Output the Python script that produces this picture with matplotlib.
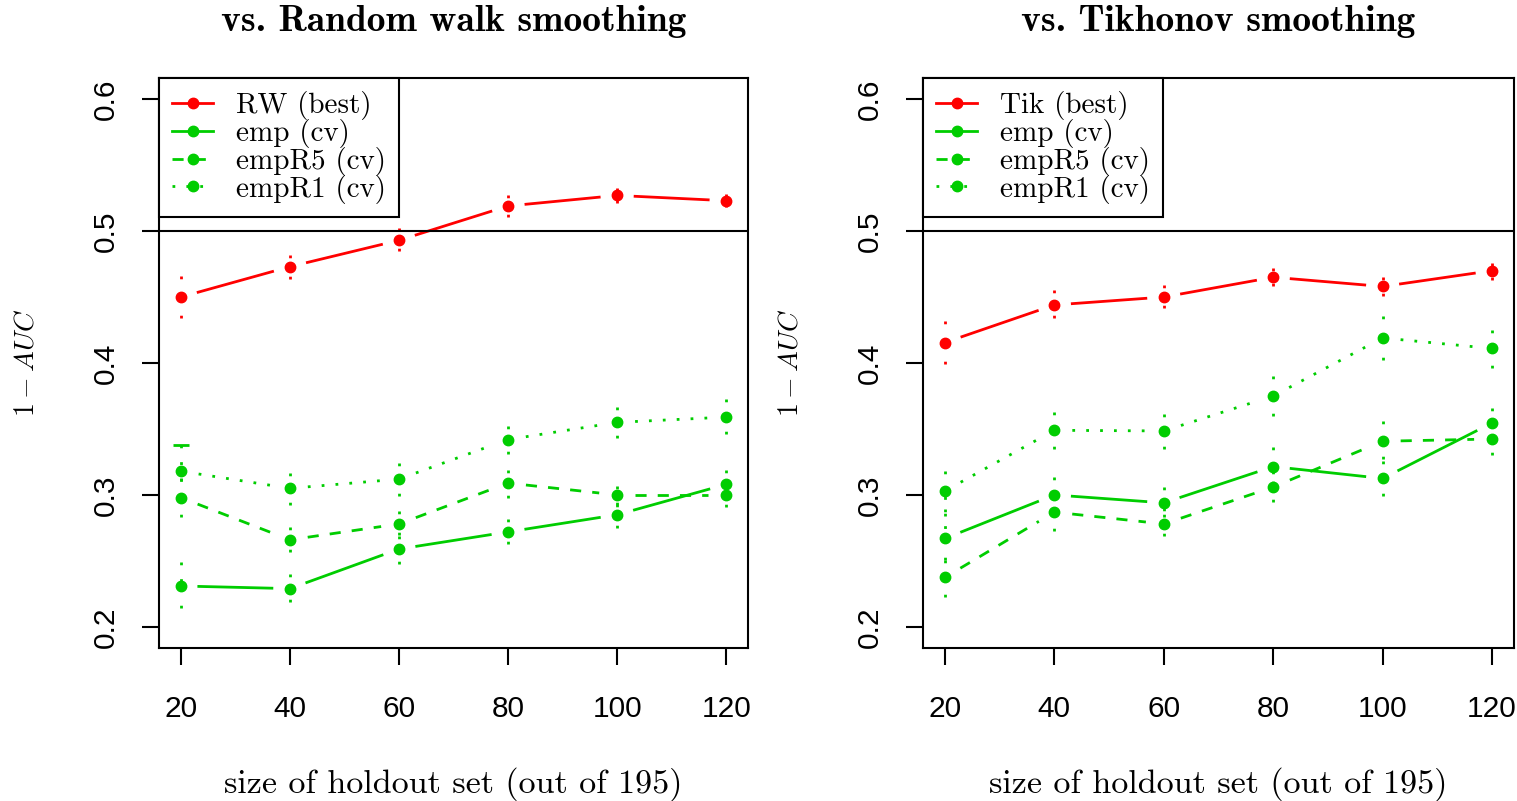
import numpy as np
import matplotlib
matplotlib.use("Agg")
import matplotlib.pyplot as plt
from matplotlib.lines import Line2D

plt.rcParams["mathtext.fontset"] = "cm"

RED = "#FF0000"
GREEN = "#00CD00"

holdout = [20, 40, 60, 80, 100, 120]

# left panel: vs. random walk smoothing
rw_best = [0.450, 0.473, 0.493, 0.519, 0.527, 0.523]
rw_best_lo = [0.434, 0.464, 0.485, 0.511, 0.521, 0.518]
rw_best_hi = [0.466, 0.482, 0.502, 0.527, 0.533, 0.528]
rw_emp = [0.231, 0.229, 0.259, 0.272, 0.285, 0.308]
rw_emp_lo = [0.214, 0.219, 0.248, 0.263, 0.275, 0.300]
rw_emp_hi = [0.249, 0.240, 0.269, 0.282, 0.293, 0.319]
rw_empR5 = [0.298, 0.266, 0.278, 0.309, 0.300, 0.300]
rw_empR5_lo = [0.283, 0.257, 0.270, 0.298, 0.292, 0.291]
rw_empR5_hi = [0.313, 0.276, 0.288, 0.319, 0.307, 0.308]
rw_empR1 = [0.318, 0.305, 0.312, 0.342, 0.355, 0.359]
rw_empR1_lo = [0.298, 0.292, 0.299, 0.331, 0.343, 0.346]
rw_empR1_hi = [0.338, 0.317, 0.324, 0.352, 0.367, 0.373]

# right panel: vs. Tikhonov smoothing
tik_best = [0.4155, 0.444, 0.450, 0.465, 0.458, 0.470]
tik_best_lo = [0.399, 0.434, 0.442, 0.458, 0.451, 0.463]
tik_best_hi = [0.432, 0.455, 0.459, 0.472, 0.465, 0.476]
tik_emp = [0.267, 0.300, 0.294, 0.3215, 0.3125, 0.3546]
tik_emp_lo = [0.251, 0.287, 0.283, 0.308, 0.299, 0.343]
tik_emp_hi = [0.289, 0.3135, 0.306, 0.336, 0.326, 0.366]
tik_empR5 = [0.2375, 0.287, 0.278, 0.306, 0.3407, 0.3424]
tik_empR5_lo = [0.2226, 0.273, 0.269, 0.2945, 0.327, 0.330]
tik_empR5_hi = [0.251, 0.300, 0.290, 0.318, 0.3557, 0.354]
tik_empR1 = [0.303, 0.349, 0.3485, 0.375, 0.419, 0.411]
tik_empR1_lo = [0.284, 0.335, 0.335, 0.360, 0.4025, 0.396]
tik_empR1_hi = [0.318, 0.3625, 0.361, 0.390, 0.4355, 0.425]

y_ticks = [0.2, 0.3, 0.4, 0.5, 0.6]
x_ticks = [20, 40, 60, 80, 100, 120]

STYLES = {
    "solid": "-",
    "dashed": (0, (4, 4)),
    "dotted": (0, (1, 4)),
}
GAP = 18  # px gap between line and point, like R type="b"


def gapped_line(ax, xs, ys, gap, **kw):
    pts = ax.transData.transform(np.column_stack([xs, ys]))
    inv = ax.transData.inverted()
    for p, q in zip(pts[:-1], pts[1:]):
        d = q - p
        L = np.hypot(*d)
        if L <= 2 * gap:
            continue
        u = d / L
        seg = inv.transform([p + u * gap, q - u * gap])
        ax.plot(seg[:, 0], seg[:, 1], **kw)


def error_bars(ax, xs, ys, lo, hi, color):
    for x, y, a, b in zip(xs, ys, lo, hi):
        for end in (a, b):
            ax.plot([x, x], [end, y], color=color, lw=2,
                    linestyle=(0, (1, 5)), dash_capstyle="butt")


def panel(ax, title, series, best_label):
    ax.set_xlim(16, 124)
    ax.set_ylim(0.184, 0.616)
    for ys, lo, hi, color, style in series:
        gapped_line(ax, holdout, ys, GAP, color=color, lw=2,
                    linestyle=STYLES[style], dash_capstyle="butt")
        error_bars(ax, holdout, ys, lo, hi, color)
        ax.plot(holdout, ys, "o", color=color, ms=7.5, mec=color)
    ax.axhline(0.5, color="black", lw=1.5)

    ax.set_xticks(x_ticks)
    ax.set_yticks(y_ticks)
    ax.set_yticklabels([f"{v:.1f}" for v in y_ticks], rotation=90,
                       va="center")
    ax.tick_params(direction="out", length=12, width=1.5, labelsize=21.5)
    ax.tick_params(axis="x", pad=22)
    ax.tick_params(axis="y", pad=16)
    for lab in ax.get_xticklabels() + ax.get_yticklabels():
        lab.set_fontfamily("Liberation Sans")
    for sp in ax.spines.values():
        sp.set_linewidth(1.5)

    # title, axis labels placed like the R figure margins
    ax.text(0.5, (801 - 22 - 153) / 570, title, transform=ax.transAxes,
            ha="center", va="center", fontfamily="cmb10", fontsize=27)
    ax.set_xlabel("size of holdout set (out of 195)", fontfamily="cmr10",
                  fontsize=24.5, va="center")
    ax.xaxis.set_label_coords(0.5, (648 - 784) / 570)
    ax.set_ylabel(r"$1 - AUC$", fontsize=20, va="center")
    ax.yaxis.set_label_coords((26 - 159) / 589, 0.5)

    handles = []
    labels = [best_label, "emp (cv)", "empR5 (cv)", "empR1 (cv)"]
    for (_, _, _, color, style) in series:
        handles.append(Line2D([], [], color=color, lw=2,
                              linestyle=STYLES[style], marker="o", ms=7.5,
                              dash_capstyle="butt"))
    leg = ax.legend(handles, labels, loc="upper left", borderaxespad=0,
                    fancybox=False, framealpha=1, edgecolor="black",
                    prop={"family": "cmr10", "size": 21},
                    handlelength=1.4, handletextpad=0.8, labelspacing=-0.04,
                    borderpad=0.45)
    leg.get_frame().set_linewidth(1.5)


fig = plt.figure(figsize=(15.17, 8.01), dpi=100)
ax1 = fig.add_axes([159 / 1517, 1 - 648 / 801, 589 / 1517, 570 / 801])
ax2 = fig.add_axes([923 / 1517, 1 - 648 / 801, 591 / 1517, 570 / 801])

panel(ax1, "vs. Random walk smoothing", [
    (rw_best, rw_best_lo, rw_best_hi, RED, "solid"),
    (rw_emp, rw_emp_lo, rw_emp_hi, GREEN, "solid"),
    (rw_empR5, rw_empR5_lo, rw_empR5_hi, GREEN, "dashed"),
    (rw_empR1, rw_empR1_lo, rw_empR1_hi, GREEN, "dotted"),
], "RW (best)")
# the short horizontal cap on the first empR1 bar
ax1.plot(holdout[0], rw_empR1_hi[0], marker="_", ms=12, mew=2, color=GREEN)

panel(ax2, "vs. Tikhonov smoothing", [
    (tik_best, tik_best_lo, tik_best_hi, RED, "solid"),
    (tik_emp, tik_emp_lo, tik_emp_hi, GREEN, "solid"),
    (tik_empR5, tik_empR5_lo, tik_empR5_hi, GREEN, "dashed"),
    (tik_empR1, tik_empR1_lo, tik_empR1_hi, GREEN, "dotted"),
], "Tik (best)")

fig.savefig("out.png", dpi=100)
